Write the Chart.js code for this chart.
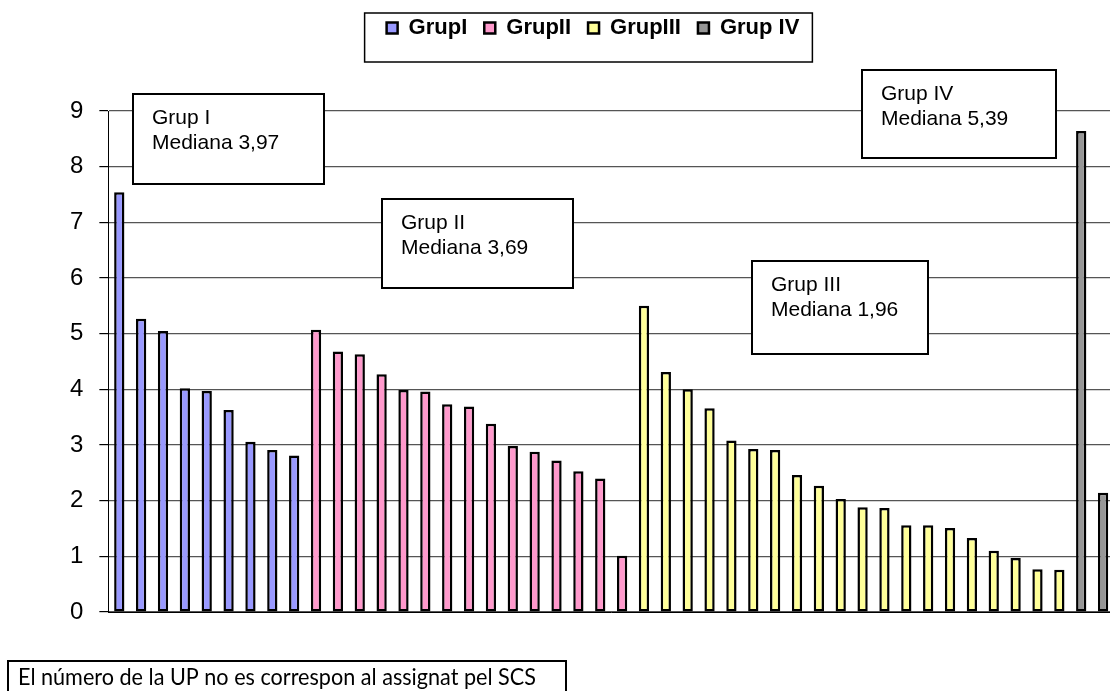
<!DOCTYPE html>
<html>
<head>
<meta charset="utf-8">
<script src="https://cdn.jsdelivr.net/npm/chart.js@4.4.1/dist/chart.umd.min.js"></script>
<style>
  html, body { margin: 0; padding: 0; background: #fff; overflow: hidden; }
</style>
</head>
<body>
<canvas id="mycanvas" width="1116" height="691"></canvas>
<script>
// UP numbers (not shown on the axis)
var categories = ['1','2','3','4','5','6','7','8','9','10','11','12','13','14','15','16',
  '17','18','19','20','21','22','23','24','25','26','27','28','29','30','31','32',
  '33','34','35','36','37','38','39','40','41','42','43','44','45','46'];

var grupI   = [7.54, 5.27, 5.05, 4.02, 3.97, 3.63, 3.06, 2.91, 2.81];
var grupII  = [5.07, 4.68, 4.63, 4.27, 3.99, 3.96, 3.73, 3.69, 3.38, 2.98, 2.88, 2.72, 2.53, 2.40, 1.01];
var grupIII = [5.50, 4.31, 4.00, 3.66, 3.08, 2.93, 2.91, 2.46, 2.27, 2.03, 1.88, 1.87, 1.56, 1.56,
               1.51, 1.33, 1.10, 0.97, 0.77, 0.76];
var grupIV  = [8.64, 2.14];

var groupNames = ['GrupI', 'GrupII', 'GrupIII', 'Grup IV'];
var groupColors = ['#9999FF', '#FF99CC', '#FFFF99', '#969696'];
var yTicks = [0, 1, 2, 3, 4, 5, 6, 7, 8, 9];

var boxTitles = ['Grup I', 'Grup II', 'Grup III', 'Grup IV'];
var boxMedians = ['Mediana 3,97', 'Mediana 3,69', 'Mediana 1,96', 'Mediana 5,39'];
var footnote = 'El número de la UP no es correspon al assignat pel SCS';

// turn each group into {x, y} points placed after the previous groups
var groups = [grupI, grupII, grupIII, grupIV];
var datasets = [];
var start = 0;
for (var g = 0; g < groups.length; g++) {
  var pts = [];
  for (var i = 0; i < groups[g].length; i++) {
    pts.push({x: categories[start + i], y: groups[g][i]});
  }
  start += groups[g].length;
  datasets.push({
    label: groupNames[g],
    data: pts,
    backgroundColor: groupColors[g],
    borderColor: '#000',
    borderWidth: 2.5,
    borderSkipped: false
  });
}

// extra room under the legend, and nudge it right a little
var legendSpace = {
  id: 'legendSpace',
  beforeUpdate: function(chart) {
    if (chart.legend && !chart.legend._patched) {
      var fit = chart.legend.fit;
      chart.legend.fit = function() {
        fit.call(this);
        this.height += 62;
      };
      chart.legend._patched = true;
    }
  },
  afterLayout: function(chart) {
    chart.legend.left += 18;
  }
};

var extras = {
  id: 'extras',
  afterDraw: function(chart) {
    var ctx = chart.ctx;
    ctx.save();
    ctx.strokeStyle = '#000';
    ctx.lineWidth = 1.5;

    // frame round the legend
    var hb = chart.legend.legendHitBoxes;
    if (hb && hb.length) {
      var last = hb[hb.length - 1];
      var lx = hb[0].left - 22;
      var rx = last.left + last.width + 13;
      ctx.strokeRect(lx, hb[0].top - 4, rx - lx, 49);
    }

    // median text boxes
    var boxes = [
      {x: 133, y: 94, w: 191, h: 90},
      {x: 382, y: 199, w: 191, h: 89},
      {x: 752, y: 261, w: 176, h: 93},
      {x: 862, y: 70, w: 194, h: 88}
    ];
    ctx.font = '21px "Liberation Sans", Arial, sans-serif';
    ctx.textBaseline = 'alphabetic';
    for (var k = 0; k < boxes.length; k++) {
      var b = boxes[k];
      ctx.fillStyle = '#fff';
      ctx.fillRect(b.x, b.y, b.w, b.h);
      ctx.lineWidth = 2;
      ctx.strokeRect(b.x, b.y, b.w, b.h);
      ctx.fillStyle = '#000';
      ctx.fillText(boxTitles[k], b.x + 19, b.y + 30);
      ctx.fillText(boxMedians[k], b.x + 19, b.y + 55);
    }

    // footnote
    ctx.lineWidth = 2;
    ctx.strokeRect(8, 661, 558, 60);
    ctx.font = '23px Lato, "Open Sans", sans-serif';
    ctx.fillText(footnote, 18, 685, 518);
    ctx.restore();
  }
};

var chart = new Chart(document.getElementById('mycanvas'), {
  type: 'bar',
  data: {
    labels: categories,
    datasets: datasets
  },
  options: {
    responsive: false,
    animation: false,
    grouped: false,
    barPercentage: 0.47,
    categoryPercentage: 1,
    layout: {
      padding: {left: 54, right: 2, top: 0, bottom: 79}
    },
    plugins: {
      tooltip: {enabled: false},
      legend: {
        position: 'top',
        labels: {
          color: '#000',
          boxWidth: 11,
          boxHeight: 11,
          padding: 17,
          font: {family: '"Liberation Sans", Arial, sans-serif', size: 22, weight: 'bold'}
        }
      }
    },
    scales: {
      x: {
        ticks: {display: false},
        grid: {display: false, drawTicks: false},
        border: {color: '#000', width: 1}
      },
      y: {
        min: yTicks[0],
        max: yTicks[yTicks.length - 1],
        afterBuildTicks: function(axis) {
          axis.ticks = yTicks.map(function(v) { return {value: v}; });
        },
        ticks: {
          color: '#000',
          padding: 16,
          font: {family: '"Liberation Sans", Arial, sans-serif', size: 24}
        },
        grid: {color: '#555', lineWidth: 1.2, tickLength: 9, tickColor: '#000'},
        border: {color: '#000', width: 1}
      }
    }
  },
  plugins: [legendSpace, extras]
});
</script>
</body>
</html>
